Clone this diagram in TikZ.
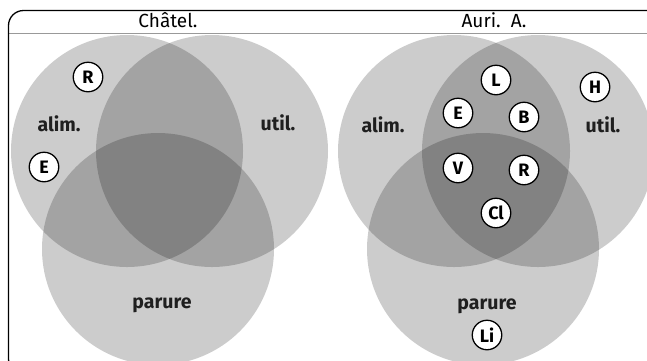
\documentclass[tikz,border=0pt]{standalone}
\usepackage{fontspec}
\setmainfont{Fira Sans}
\begin{document}
\begin{tikzpicture}[x=1pt,y=-1pt,
  setc/.style={fill=black, fill opacity=0.2},
  lab/.style={font=\bfseries\fontsize{19.5}{19.5}\selectfont, text=black!88},
  ttl/.style={font=\fontsize{19}{19}\selectfont, text=black},
  elt/.style={circle, draw=black, line width=1.3pt, fill=white, minimum size=29.5pt, inner sep=0pt,
    font=\bfseries\fontsize{18}{18}\selectfont}]
\useasboundingbox (0,0) rectangle (647,360);
\clip (0,0) rectangle (647,360);
% circles
\begin{scope}
\clip (8,35.5) rectangle (647,360);
\fill[setc] (127,151) circle (116pt);
\fill[setc] (212,151) circle (116pt);
\fill[setc] (158,249) circle (116pt);
\fill[setc] (454,151) circle (116pt);
\fill[setc] (538,151) circle (116pt);
\fill[setc] (483,249) circle (116pt);
\end{scope}
% frame
\draw[black!40, line width=1pt] (8.5,33) -- (647,33);
\draw[line width=1.3pt, rounded corners=15pt] (8.5,10.5) rectangle (662,374);
% titles
\node[ttl] (t1) at (168,20) {Châtel.};
\node[ttl] (t2) at (494,20) {Auri.\ \ A.};
% left labels
\node[lab] (alim1) at (59,124) {alim.};
\node[lab] (util1) at (278,123) {util.};
\node[lab] (par1) at (162,305) {parure};
\node[elt] (R1) at (88,77) {R};
\node[elt] (E1) at (44,167) {E};
% right labels
\node[lab] (alim2) at (383,125) {alim.};
\node[lab] (util2) at (603,125) {util.};
\node[lab] (par2) at (487,306) {parure};
\node[elt] (L2) at (496,80) {L};
\node[elt] (E2) at (458,113) {E};
\node[elt] (B2) at (524,117) {B};
\node[elt] (H2) at (595,87) {H};
\node[elt] (V2) at (458,168) {V};
\node[elt] (R2) at (524,170) {R};
\node[elt] (Cl2) at (496,213) {Cl};
\node[elt] (Li2) at (487,335) {Li};
\end{tikzpicture}
\end{document}
